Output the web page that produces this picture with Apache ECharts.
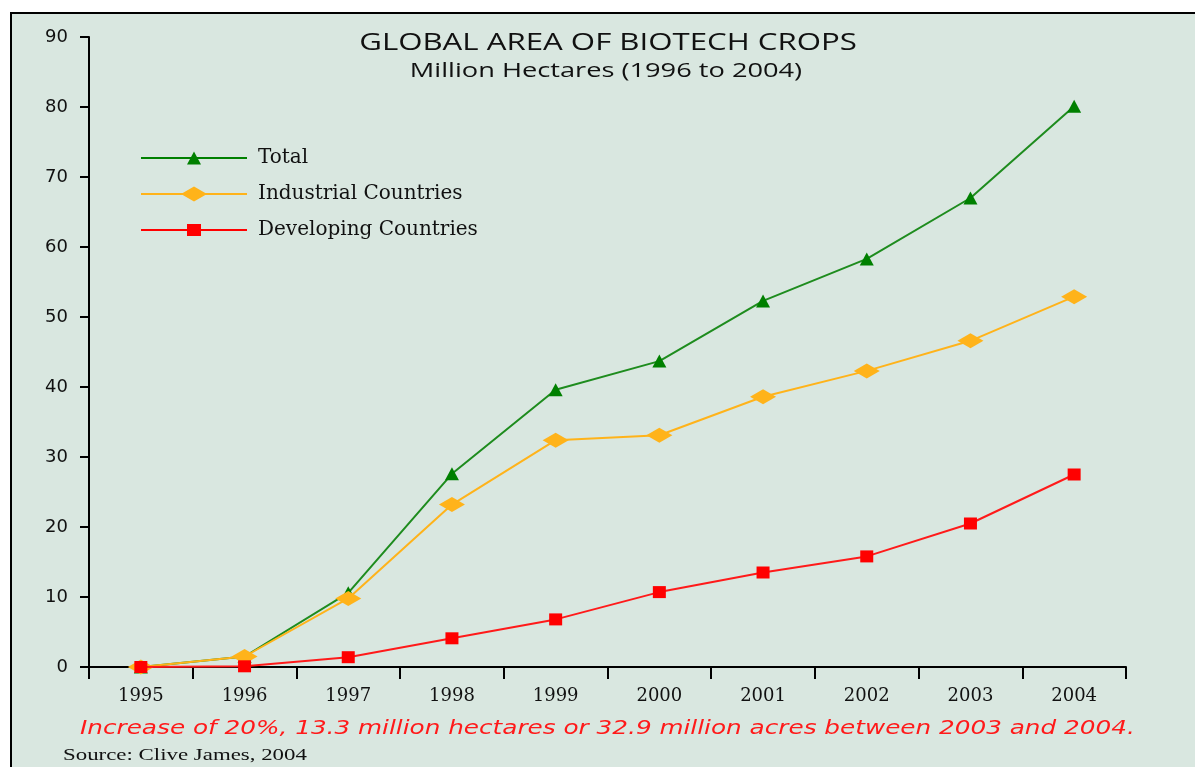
<!DOCTYPE html>
<html><head><meta charset="utf-8">
<script src="https://cdn.jsdelivr.net/npm/echarts@6/dist/echarts.min.js"></script>
<style>html,body{margin:0;padding:0;background:#fff}#c{width:1195px;height:767px}</style>
</head><body><div id="c"></div>
<script>
const years = ['1995','1996','1997','1998','1999','2000','2001','2002','2003','2004'];
const total = [0, 1.5, 10.6, 27.6, 39.6, 43.7, 52.3, 58.3, 67.0, 80.1];
const industrial = [0, 1.5, 9.8, 23.2, 32.4, 33.1, 38.6, 42.3, 46.6, 52.9];
const developing = [0, 0.1, 1.4, 4.1, 6.8, 10.7, 13.5, 15.8, 20.5, 27.5];
const yTicks = [0, 10, 20, 30, 40, 50, 60, 70, 80, 90];
const seriesNames = ['Total', 'Industrial Countries', 'Developing Countries'];
const titleText = 'GLOBAL AREA OF BIOTECH CROPS';
const subtitleText = 'Million Hectares (1996 to 2004)';
const noteText = 'Increase of 20%, 13.3 million hectares or 32.9 million acres between 2003 and 2004.';
const sourceText = 'Source: Clive James, 2004';

// legend icons: line + marker drawn as one filled path (106 x 15 box)
const iconTri = 'path://M0,6.5 L106,6.5 L106,8.5 L0,8.5 Z M46,14 L53,1 L60,14 Z M0,0 L0.01,0 L0.01,0.01 Z M0,15 L0.01,15 L0.01,14.99 Z';
const iconDia = 'path://M0,6.5 L106,6.5 L106,8.5 L0,8.5 Z M40,7.5 L53,0 L66,7.5 L53,15 Z';
const iconSq = 'path://M0,6.5 L106,6.5 L106,8.5 L0,8.5 Z M46,1.5 L60,1.5 L60,13.5 L46,13.5 Z M0,0 L0.01,0 L0.01,0.01 Z M0,15 L0.01,15 L0.01,14.99 Z';

const chart = echarts.init(document.getElementById('c'), null, {renderer: 'canvas'});
const serif = 'DejaVu Serif';
const sans = 'DejaVu Sans';
chart.setOption({
  backgroundColor: '#ffffff',
  animation: false,
  graphic: [
    {type: 'rect', z: -10, silent: true, shape: {x: 11, y: 13, width: 1184, height: 754},
     style: {fill: '#d9e7e0'}},
    {type: 'line', z: -9, silent: true, shape: {x1: 10, y1: 13, x2: 1195, y2: 13}, style: {stroke: '#000', lineWidth: 2}},
    {type: 'line', z: -9, silent: true, shape: {x1: 11, y1: 12, x2: 11, y2: 767}, style: {stroke: '#000', lineWidth: 2}},
    {type: 'text', x: 608, y: 43.5, scaleX: 1.3, style: {text: titleText, font: '24px "Open Sans"', fill: '#111', align: 'center', verticalAlign: 'middle'}},
    {type: 'text', x: 606, y: 71.5, scaleX: 1.36, style: {text: subtitleText, font: '20px "Open Sans"', fill: '#111', align: 'center', verticalAlign: 'middle'}},
    {type: 'text', x: 80, y: 729, scaleX: 1.3, style: {text: noteText, font: 'italic 19px "DejaVu Sans"', fill: '#ff1a1a', align: 'left', verticalAlign: 'middle'}},
    {type: 'text', x: 63, y: 755, scaleX: 1.3, style: {text: sourceText, font: '17.6px "Liberation Serif"', fill: '#111', align: 'left', verticalAlign: 'middle'}}
  ],
  legend: {
    orient: 'vertical', left: 141, top: 148, padding: 0, itemWidth: 106, itemHeight: 15, itemGap: 16,
    textStyle: {fontFamily: serif, fontSize: 20, lineHeight: 20, color: '#111', padding: [0,0,0,6]},
    data: [
      {name: seriesNames[0], icon: iconTri},
      {name: seriesNames[1], icon: iconDia},
      {name: seriesNames[2], icon: iconSq}
    ]
  },
  grid: {left: 89, right: 69, top: 37, bottom: 100, containLabel: false},
  xAxis: {
    type: 'category', data: years, boundaryGap: true,
    axisLine: {lineStyle: {color: '#000', width: 2}},
    axisTick: {show: true, length: 12, lineStyle: {color: '#000', width: 2}, alignWithLabel: false},
    axisLabel: {fontFamily: serif, fontSize: 18, color: '#111', margin: 20},
    splitLine: {show: false}
  },
  yAxis: {
    type: 'value', min: 0, max: 90, interval: 10,
    axisLine: {show: true, lineStyle: {color: '#000', width: 2}},
    axisTick: {show: true, length: 9, lineStyle: {color: '#000', width: 2}},
    axisLabel: {fontFamily: sans, fontSize: 18, color: '#111', margin: 21,
      formatter: v => yTicks.includes(v) ? String(v) : ''},
    splitLine: {show: false}
  },
  series: [
    {name: seriesNames[2], type: 'line', data: developing, z: 3,
     symbol: 'rect', symbolSize: [13, 12], showAllSymbol: true,
     lineStyle: {color: '#ff1a1a', width: 2}, itemStyle: {color: '#ff0000'}},
    {name: seriesNames[1], type: 'line', data: industrial, z: 2,
     symbol: 'diamond', symbolSize: [26, 15], showAllSymbol: true,
     lineStyle: {color: '#ffb31a', width: 2}, itemStyle: {color: '#ffb31a'}},
    {name: seriesNames[0], type: 'line', data: total, z: 1,
     symbol: 'triangle', symbolSize: [14, 13], showAllSymbol: true,
     lineStyle: {color: '#1e8c1e', width: 2}, itemStyle: {color: '#008000'}}
  ]
});
</script></body></html>
